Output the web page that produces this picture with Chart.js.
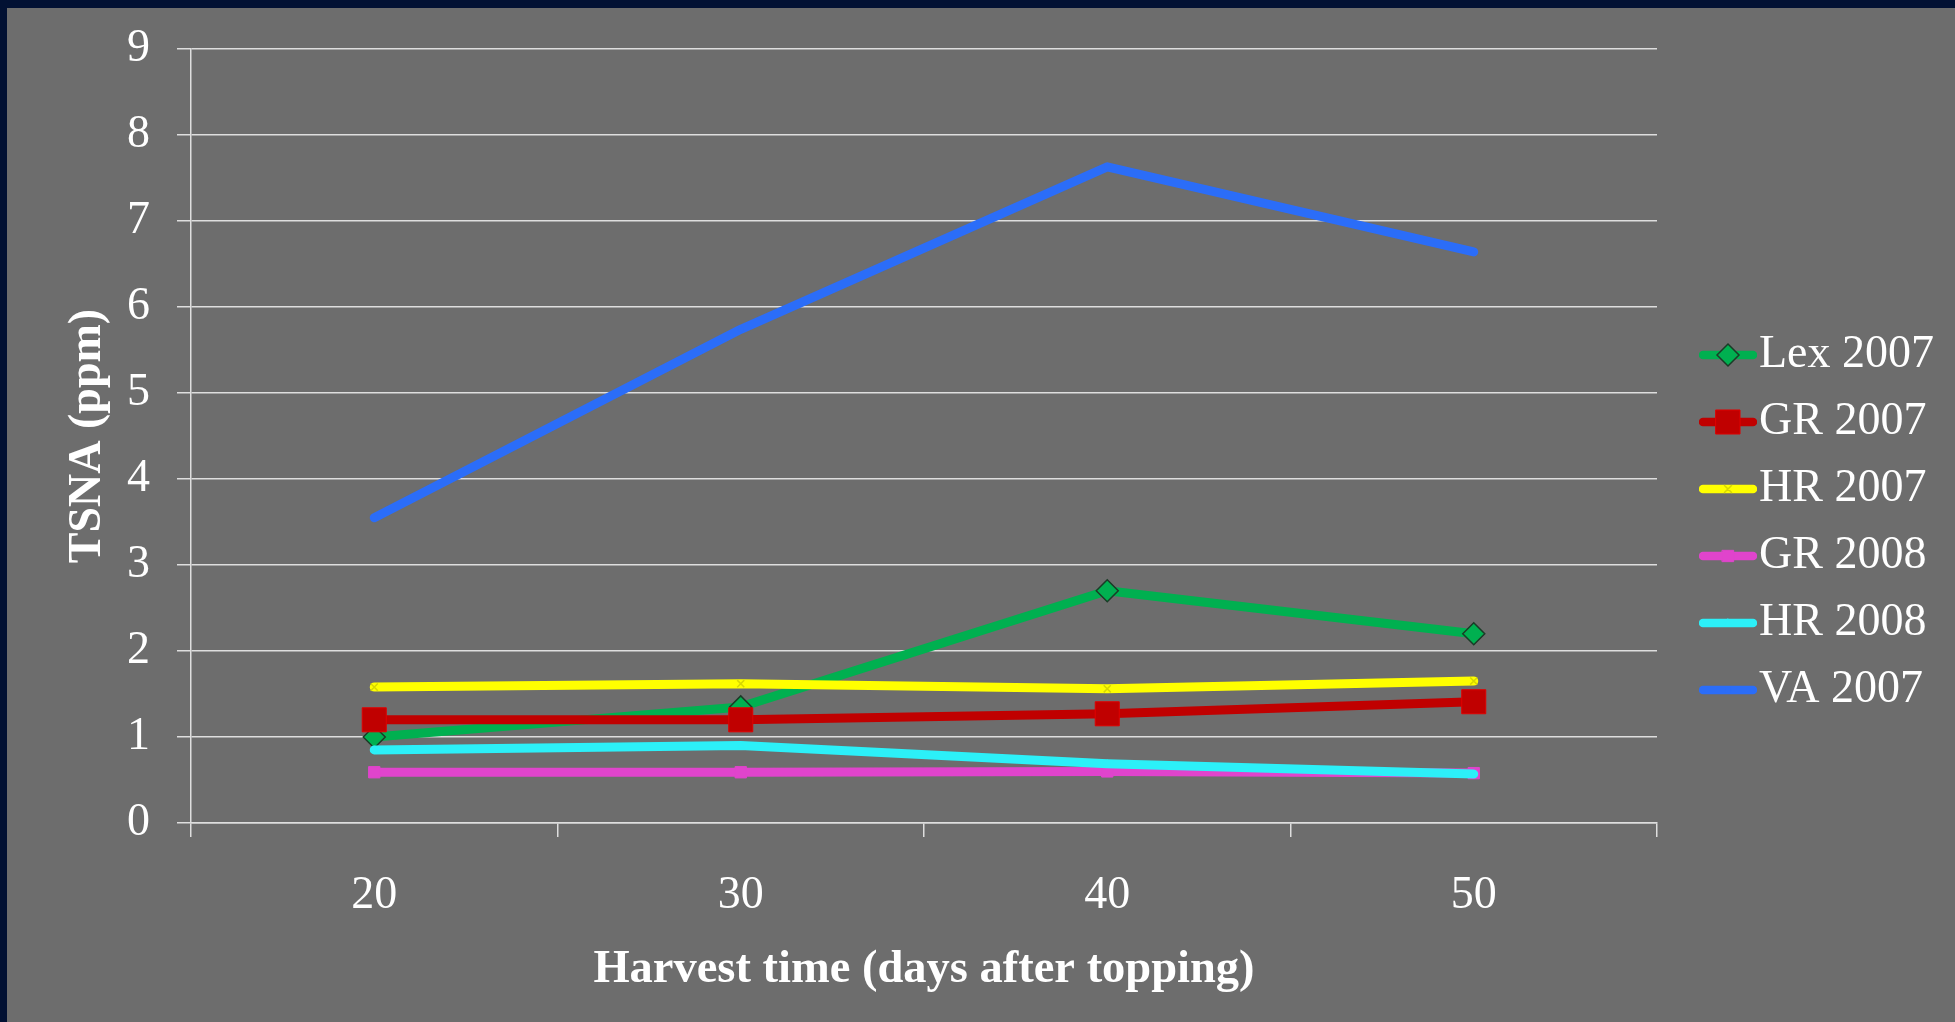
<!DOCTYPE html>
<html><head><meta charset="utf-8">
<script src="https://cdn.jsdelivr.net/npm/chart.js@4.4.1/dist/chart.umd.min.js"></script>
<style>html,body{margin:0;padding:0;background:#021133;overflow:hidden}canvas{display:block}</style>
</head><body>
<canvas id="c" width="1955" height="1022"></canvas>
<script>
// ---- data ----
const categories = ['20', '30', '40', '50'];
const seriesNames = ['Lex 2007', 'GR 2007', 'HR 2007', 'GR 2008', 'HR 2008', 'VA 2007'];
const lex2007 = [1.00, 1.35, 2.70, 2.20];
const gr2007  = [1.20, 1.20, 1.27, 1.41];
const hr2007  = [1.58, 1.62, 1.56, 1.65];
const gr2008  = [0.59, 0.59, 0.60, 0.58];
const hr2008  = [0.85, 0.90, 0.69, 0.57];
const va2007  = [3.55, 5.74, 7.63, 6.64];
const yMin = 0, yMax = 9, yStep = 1;
const xTitle = 'Harvest time (days after topping)';
const yTitle = 'TSNA (ppm)';

// ---- styles ----
const seriesValues = [lex2007, gr2007, hr2007, gr2008, hr2008, va2007];
const styles = [
  {color: '#00b050', pointStyle: 'rectRot', radius: 11, bg: '#00b050', border: '#1b3b27', bw: 1.5},
  {color: '#c00000', pointStyle: 'rect', radius: 17, bg: '#c00000', border: '#e00000', bw: 1},
  {color: '#ffff00', pointStyle: 'crossRot', radius: 5, bg: '#ffff00', border: '#d8d800', bw: 1.5},
  {color: '#e044cc', pointStyle: 'rect', radius: 8, bg: '#e044cc', border: '#e044cc', bw: 1},
  {color: '#2cf0f8', pointStyle: 'triangle', radius: 4, bg: '#2cf0f8', border: '#2cf0f8', bw: 1},
  {color: '#2b6df8', pointStyle: 'circle', radius: 3, bg: '#2b6df8', border: '#2b6df8', bw: 1}
];
const SERIF = "'Liberation Serif', 'Times New Roman', serif";
const GRID = '#dedede';

function makeIcon(st) {
  const cv = document.createElement('canvas');
  cv.width = 58; cv.height = 40;
  const c = cv.getContext('2d');
  c.strokeStyle = st.color; c.lineWidth = 8.5; c.lineCap = 'round';
  c.beginPath(); c.moveTo(4, 20); c.lineTo(54, 20); c.stroke();
  c.fillStyle = st.bg; c.strokeStyle = st.border; c.lineWidth = st.bw;
  if (Chart.helpers && Chart.helpers.drawPoint) {
    Chart.helpers.drawPoint(c, {pointStyle: st.pointStyle, radius: st.radius, borderWidth: st.bw, rotation: 0}, 29, 20);
  }
  return cv;
}

const datasets = seriesNames.map((name, i) => ({
  label: name,
  data: seriesValues[i],
  borderColor: styles[i].color,
  backgroundColor: styles[i].color,
  borderWidth: 9,
  borderCapStyle: 'round',
  borderJoinStyle: 'round',
  tension: 0,
  pointStyle: styles[i].pointStyle,
  pointRadius: styles[i].radius,
  pointHoverRadius: styles[i].radius,
  pointBackgroundColor: styles[i].bg,
  pointBorderColor: styles[i].border,
  pointBorderWidth: styles[i].bw,
  order: seriesNames.length - 1 - i,
  _icon: makeIcon(styles[i])
}));

const bgPlugin = {
  id: 'bg',
  beforeDraw(chart) {
    const ctx = chart.ctx;
    ctx.save();
    ctx.fillStyle = '#021133';
    ctx.fillRect(0, 0, chart.width, chart.height);
    ctx.fillStyle = '#6d6d6d';
    ctx.fillRect(7, 8, chart.width - 7, chart.height - 8);
    ctx.restore();
  }
};

const LEGEND_W = 298;
const legendPlace = {
  id: 'legendPlace',
  beforeLayout(chart) {
    const lg = chart.legend;
    if (lg && !lg.__patched) {
      const f = lg.fit;
      lg.fit = function () { f.call(this); this.width = LEGEND_W; };
      lg.__patched = true;
    }
  },
  afterLayout(chart) {
    const lg = chart.legend;
    if (!lg) return;
    lg.left = chart.chartArea.right + 42;
    lg.right = chart.width;
    lg.top = 311;
    lg.bottom = chart.height;
  }
};

new Chart(document.getElementById('c'), {
  type: 'line',
  data: {labels: categories, datasets},
  plugins: [bgPlugin, legendPlace],
  options: {
    responsive: false,
    animation: false,
    devicePixelRatio: 1,
    layout: {padding: {top: 49, left: 0, right: 0, bottom: 0}},
    plugins: {
      tooltip: {enabled: false},
      legend: {
        position: 'right',
        align: 'start',
        reverse: true,
        labels: {
          color: '#ffffff',
          font: {family: SERIF, size: 46},
          usePointStyle: true,
          pointStyleWidth: 16,
          padding: 21,
          generateLabels(chart) {
            const items = Chart.defaults.plugins.legend.labels.generateLabels(chart);
            items.forEach(it => {
              const ds = chart.data.datasets[it.datasetIndex];
              it.pointStyle = ds._icon;
              it.fontColor = '#ffffff';
            });
            return items;
          }
        }
      }
    },
    scales: {
      x: {
        type: 'category',
        offset: true,
        grid: {display: true, drawOnChartArea: false, drawTicks: true, tickLength: 14, offset: true, color: GRID, lineWidth: 1.5},
        border: {display: true, color: GRID, width: 1.5},
        ticks: {color: '#ffffff', font: {family: SERIF, size: 46}, padding: 31, maxRotation: 0},
        title: {display: true, text: xTitle, color: '#ffffff', font: {family: SERIF, size: 46.5, weight: 'bold'}, padding: {top: 0, bottom: 24}},
        afterFit(scale) { scale.height = 199; scale.paddingLeft = 0; scale.paddingRight = 0; }
      },
      y: {
        min: yMin, max: yMax,
        ticks: {stepSize: yStep, color: '#ffffff', font: {family: SERIF, size: 46}, padding: 27},
        grid: {color: GRID, lineWidth: 1.5, drawTicks: true, tickLength: 14},
        border: {display: true, color: GRID, width: 1.5},
        title: {display: true, text: yTitle, color: '#ffffff', font: {family: SERIF, size: 46, weight: 'bold'}, padding: {top: 61, bottom: 0}},
        afterFit(scale) { scale.width = 191; scale.paddingTop = 0; scale.paddingBottom = 0; }
      }
    }
  }
});
</script>
</body></html>
